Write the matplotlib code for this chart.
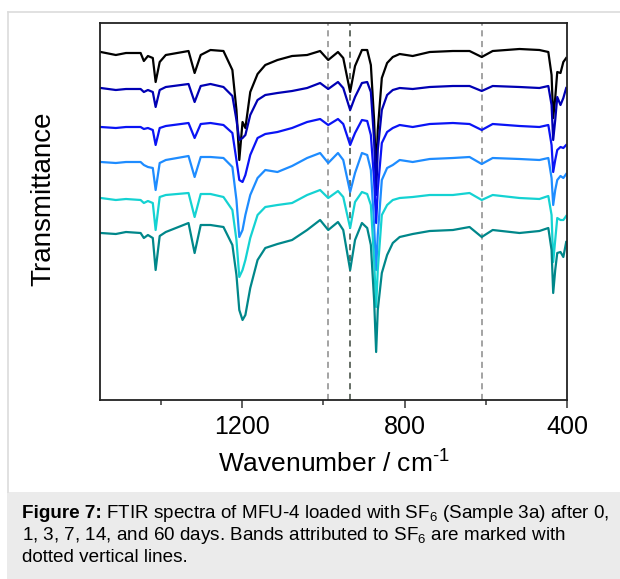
import numpy as np
import matplotlib
matplotlib.use('Agg')
from matplotlib import pyplot as plt
from matplotlib.patches import Rectangle

plt.rcParams['font.family'] = ['Liberation Sans', 'DejaVu Sans']
plt.rcParams['mathtext.default'] = 'regular'

# wavenumbers (cm-1) of the points
wavenumber = [1548, 1511, 1486, 1450, 1442, 1432, 1420, 1413, 1403, 1388,
              1332, 1317, 1302, 1278, 1246, 1224, 1214, 1207, 1199, 1192,
              1180, 1162, 1143, 1113, 1077, 1040, 1008, 988, 964, 951,
              934, 922, 905, 892, 883, 875, 870, 866, 856, 843,
              829, 812, 780, 738, 681, 640, 610, 583, 517, 468,
              446, 438, 434, 429, 424, 416, 409, 402]

# transmittance (a.u., stacked) after 0, 1, 3, 7, 14 and 60 days
day0 = [348, 345, 347, 347, 339, 344, 342, 318, 338, 345,
        349, 327, 345, 350, 349, 330, 290, 240, 278, 272,
        308, 326, 335, 340, 344, 345, 349, 340, 348, 342,
        308, 334, 350, 350, 335, 280, 225, 270, 322, 337,
        343, 346, 344, 348, 349, 349, 343, 349, 351, 350,
        348, 325, 282, 302, 328, 327, 338, 342]
day1 = [312, 310, 311, 311, 308, 310, 308, 293, 310, 313,
        316, 298, 314, 316, 313, 304, 280, 260, 262, 265,
        285, 300, 305, 307, 309, 312, 317, 311, 318, 312,
        290, 303, 317, 318, 308, 260, 205, 250, 290, 305,
        310, 312, 311, 313, 314, 314, 309, 314, 313, 312,
        314, 295, 260, 280, 303, 295, 302, 312]
day3 = [273, 272, 273, 273, 271, 272, 270, 255, 272, 274,
        277, 262, 276, 277, 275, 267, 240, 220, 218, 225,
        245, 262, 266, 268, 272, 278, 281, 275, 281, 276,
        255, 267, 280, 279, 265, 220, 177, 210, 257, 268,
        272, 275, 273, 276, 277, 276, 270, 276, 274, 273,
        275, 255, 228, 240, 250, 253, 252, 255]
day7 = [238, 237, 238, 238, 235, 233, 232, 210, 237, 240,
        244, 223, 243, 243, 242, 233, 200, 163, 170, 185,
        205, 222, 230, 228, 234, 242, 247, 237, 247, 240,
        208, 227, 247, 245, 230, 175, 130, 165, 220, 232,
        235, 240, 238, 241, 242, 243, 236, 242, 241, 240,
        242, 222, 195, 210, 220, 224, 222, 226]
day14 = [202, 200, 201, 200, 197, 199, 197, 170, 203, 205,
         207, 183, 206, 206, 203, 190, 160, 123, 130, 140,
         162, 185, 193, 195, 197, 205, 210, 202, 209, 203,
         172, 198, 208, 206, 195, 140, 93, 130, 185, 195,
         200, 202, 203, 205, 205, 207, 200, 205, 202, 201,
         204, 185, 138, 160, 182, 180, 180, 184]
day60 = [167, 166, 168, 167, 162, 165, 162, 130, 164, 168,
         177, 147, 175, 175, 173, 155, 125, 90, 80, 85,
         112, 140, 152, 156, 160, 170, 180, 170, 178, 170,
         130, 160, 177, 172, 155, 100, 48, 90, 127, 145,
         157, 163, 166, 169, 170, 173, 163, 170, 167, 169,
         172, 150, 107, 130, 147, 148, 143, 158]

spectra = [day0, day1, day3, day7, day14, day60]
colors = ['#000000', '#0000b4', '#0a14f5', '#1e8cff', '#14d2d2', '#00878a']

# SF6 bands
sf6_bands = [988, 935, 610]
band_colors = ['#8a8a8a', '#3c463c', '#8a8a8a']

fig = plt.figure(figsize=(6.2, 5.79), dpi=100)

# page frame + caption box
fig.patches.append(Rectangle((7/620, 0), 1, 87/579, transform=fig.transFigure,
                             facecolor='#ebebeb', edgecolor='none', zorder=0))
fig.lines.append(plt.Line2D([8/620, 8/620], [87/579, 567/579], transform=fig.transFigure,
                            color='#dcdcdc', lw=1.2))
fig.lines.append(plt.Line2D([8/620, 1], [567/579, 567/579], transform=fig.transFigure,
                            color='#dcdcdc', lw=1.2))

ax = fig.add_axes([100/620, 179/579, 467/620, 377/579])

for band, c in zip(sf6_bands, band_colors):
    ax.axvline(band, color=c, lw=1.1, ls=(0, (4, 3)), zorder=1)

for s, c in zip(spectra, colors):
    ax.plot(wavenumber, s, color=c, lw=1.6, zorder=2)

ax.set_xlim(1550, 400)
ax.set_ylim(0, 377)
ax.set_yticks([])
ax.set_xticks([1200, 800, 400])
ax.set_xticks([1400, 1000, 600], minor=True)
ax.tick_params(axis='x', which='major', direction='out', length=6, width=1.2,
               color='#444444', labelsize=18, pad=5)
ax.tick_params(axis='x', which='minor', direction='out', length=3.5, width=1.2,
               color='#444444')
for sp in ax.spines.values():
    sp.set_linewidth(1.3)
    sp.set_color('#222222')

ax.set_xlabel('Wavenumber / cm$^{\u20101}$', fontsize=19, labelpad=8)
ax.set_ylabel('Transmittance', fontsize=20)
ax.yaxis.set_label_coords(-0.093, 0.535)

# caption: bold label then regular text
renderer = fig.canvas.get_renderer()
fs = 13.6
y1 = 1 - 513/579
t = fig.text(22/620, y1, 'Figure 7:', fontsize=fs, fontweight='bold', va='center')
w = t.get_window_extent(renderer).width
fig.text(22/620 + (w + 4)/620, y1,
         'FTIR spectra of MFU-4 loaded with SF$_6$ (Sample 3a) after 0,',
         fontsize=fs, va='center')
fig.text(22/620, 1 - 535/579,
         '1, 3, 7, 14, and 60 days. Bands attributed to SF$_6$ are marked with',
         fontsize=fs, va='center')
fig.text(22/620, 1 - 557/579, 'dotted vertical lines.', fontsize=fs, va='center')

plt.savefig('out.png', dpi=100)
